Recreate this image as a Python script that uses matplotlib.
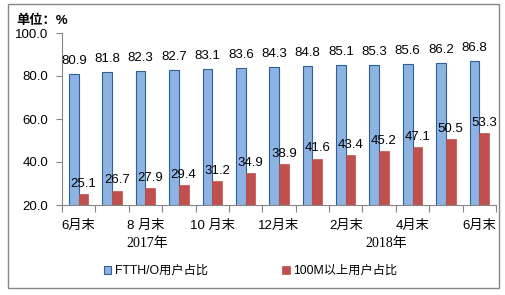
import matplotlib.pyplot as plt
from matplotlib.patches import Rectangle
from matplotlib.transforms import blended_transform_factory
import numpy as np

plt.rcParams['font.family'] = ['Liberation Sans', 'Noto Sans CJK SC', 'DejaVu Sans']

# data
months = ['6月末', '7月末', '8 月末', '9月末', '10 月末', '11月末', '12月末',
          '1月末', '2月末', '3月末', '4月末', '5月末', '6月末']
ftth = [80.9, 81.8, 82.3, 82.7, 83.1, 83.6, 84.3, 84.8, 85.1, 85.3, 85.6, 86.2, 86.8]
over100m = [25.1, 26.7, 27.9, 29.4, 31.2, 34.9, 38.9, 41.6, 43.4, 45.2, 47.1, 50.5, 53.3]
years = ['2017年', '2018年']
year_pos = [2.05, 9.2]

W, H = 505, 295
fig = plt.figure(figsize=(W / 100, H / 100), dpi=100)
ax = fig.add_axes([62 / W, 1 - 205 / H, (496 - 62) / W, (205 - 33) / H])

x = np.arange(len(months))
bw = 0.29
blue = ax.bar(x - bw / 2, ftth, bw, color='#8DB3E2', edgecolor='#2F5F98', linewidth=0.8,
              label='FTTH/O用户占比')
red = ax.bar(x + bw / 2, over100m, bw, color='#C0504D', edgecolor='#C0504D', linewidth=0.5,
             label='100M以上用户占比')

for xi, v in zip(x, ftth):
    ax.annotate(f'{v:.1f}', (xi - bw / 2, v), xytext=(0, 5), textcoords='offset points',
                ha='center', va='bottom', fontsize=9.5)
for xi, v in zip(x, over100m):
    ax.annotate(f'{v:.1f}', (xi + bw / 2, v), xytext=(0, 3), textcoords='offset points',
                ha='center', va='bottom', fontsize=9.5)

ax.set_xlim(-0.5, len(months) - 0.5)
ax.set_ylim(20, 100)
ax.set_yticks([20, 40, 60, 80, 100])
ax.set_yticklabels([f'{t:.1f}' for t in [20, 40, 60, 80, 100]], fontsize=9.5)

# category boundary ticks, labels every second month
ax.set_xticks(np.arange(-0.5, len(months)), minor=False)
ax.set_xticklabels([])
ax.set_xticks(x[::2], minor=True)
ax.set_xticklabels(months[::2], minor=True, fontsize=9.5)
ax.tick_params(axis='x', which='major', length=5, color='#868686')
ax.tick_params(axis='x', which='minor', length=0, pad=11)
ax.tick_params(axis='y', length=4, color='#868686', pad=6)

for s in ['top', 'right']:
    ax.spines[s].set_visible(False)
for s in ['left', 'bottom']:
    ax.spines[s].set_color('#868686')

trans = blended_transform_factory(ax.transData, fig.transFigure)
for yr, p in zip(years, year_pos):
    ax.text(p, 1 - 244 / H, yr, transform=trans, ha='center', va='center', fontsize=10,
            family=['Liberation Serif', 'Noto Sans CJK SC'])

fig.text(16 / W, 1 - 21 / H, '单位：%', fontsize=9.5, fontweight='bold', va='center', ha='left')

fig.legend(handles=[blue, red], loc='center left', bbox_to_anchor=(98 / W, 1 - 271 / H), ncol=2,
           frameon=False, fontsize=8.8, handlelength=0.6, handleheight=0.6, handletextpad=0.3,
           columnspacing=6.05, borderpad=0)

fig.add_artist(Rectangle((8 / W, 1 - 288 / H), (499 - 8) / W, (288 - 4) / H,
                         transform=fig.transFigure, fill=False, edgecolor='#868686', linewidth=1))

fig.savefig('out.png', dpi=100)
